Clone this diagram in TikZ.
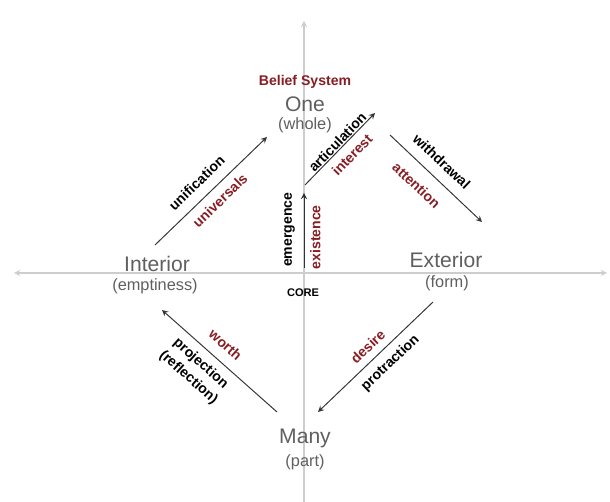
\documentclass[tikz,border=0pt]{standalone}
\usepackage{fontspec}
\setmainfont{Liberation Sans}
\usepackage{xcolor}
\usetikzlibrary{calc}
\tikzset{>=stealth}
\definecolor{beliefred}{RGB}{135,30,35}
\definecolor{axisgray}{RGB}{205,205,205}
\definecolor{polegray}{RGB}{95,95,95}

\tikzset{
  axis/.style={draw=axisgray,line width=0.6pt},
  flow/.style={->,draw=black!80,line width=0.55pt},
  pole/.style={text=polegray,font=\fontsize{12}{12}\selectfont,inner sep=0pt},
  polesub/.style={text=polegray,font=\fontsize{9.3}{9.3}\selectfont,inner sep=0pt},
  verb/.style={font=\bfseries\fontsize{8}{10.5}\selectfont,sloped,inner sep=1pt},
  noun/.style={verb,text=beliefred}
}

\begin{document}
\begin{tikzpicture}[x=0.02cm,y=-0.02cm]
  \useasboundingbox (0,0) rectangle (610,502);

  % axes
  \coordinate (west) at (14,273);
  \coordinate (east) at (607,273);
  \coordinate (north) at (304,21);
  \coordinate (south) at (304,502);
  \draw[<->,axis] (west)--(east);
  \draw[->,axis] (south)--(north);

  % poles
  \node[text=beliefred,font=\bfseries\fontsize{8}{8}\selectfont] (belief) at (305,82) {Belief System};
  \node[pole] (one) at (305,104) {One};
  \node[polesub] (whole) at (305,125) {(whole)};
  \node[pole] (interior) at (157,264) {Interior};
  \node[polesub] (emptiness) at (155,286) {(emptiness)};
  \node[pole] (exterior) at (446,260) {Exterior};
  \node[polesub] (form) at (447,283) {(form)};
  \node[pole] (many) at (305,438) {Many};
  \node[polesub] (part) at (305,462) {(part)};
  \node[font=\bfseries\fontsize{6.3}{6.3}\selectfont] (core) at (303,293) {CORE};

  % arrow ends
  \coordinate (uniA) at (155,245);
  \coordinate (uniB) at (267,137);
  \coordinate (emA) at (304,268);
  \coordinate (emB) at (304,193);
  \coordinate (artA) at (305,185);
  \coordinate (artB) at (375,113);
  \coordinate (witA) at (390,135);
  \coordinate (witB) at (482,222);
  \coordinate (proA) at (433,302);
  \coordinate (proB) at (318,412);
  \coordinate (refA) at (277,412);
  \coordinate (refB) at (162,310);

  \draw[flow] (uniA) -- (uniB)
    node[verb,above=4.8pt,pos=.47] (unification) {unification}
    node[noun,below=3.2pt,pos=.5] (universals) {universals};
  \draw[flow] (emA) -- (emB)
    node[verb,above=4pt,pos=.51] (emergence) {emergence}
    node[noun,below=2.3pt,pos=.41] (existence) {existence};
  \draw[flow] (artA) -- (artB)
    node[verb,above=-0.5pt,pos=.53] (articulation) {articulation}
    node[noun,below=3.1pt,pos=.54] (interest) {interest};
  \draw[flow] (witA) -- (witB)
    node[verb,above=5.1pt,pos=.44] (withdrawal) {withdrawal}
    node[noun,below=6.3pt,pos=.425] (attention) {attention};
  \draw[flow] (proA) -- (proB)
    node[noun,above=3.1pt,pos=.49] (desire) {desire}
    node[verb,below=3.5pt,pos=.46] (protraction) {protraction};
  \draw[flow] (refA) -- (refB)
    node[noun,above=5pt,pos=.54] (worth) {worth}
    node[verb,below=3.3pt,pos=.58,align=center] (projection) {projection\\(reflection)};

\end{tikzpicture}
\end{document}
